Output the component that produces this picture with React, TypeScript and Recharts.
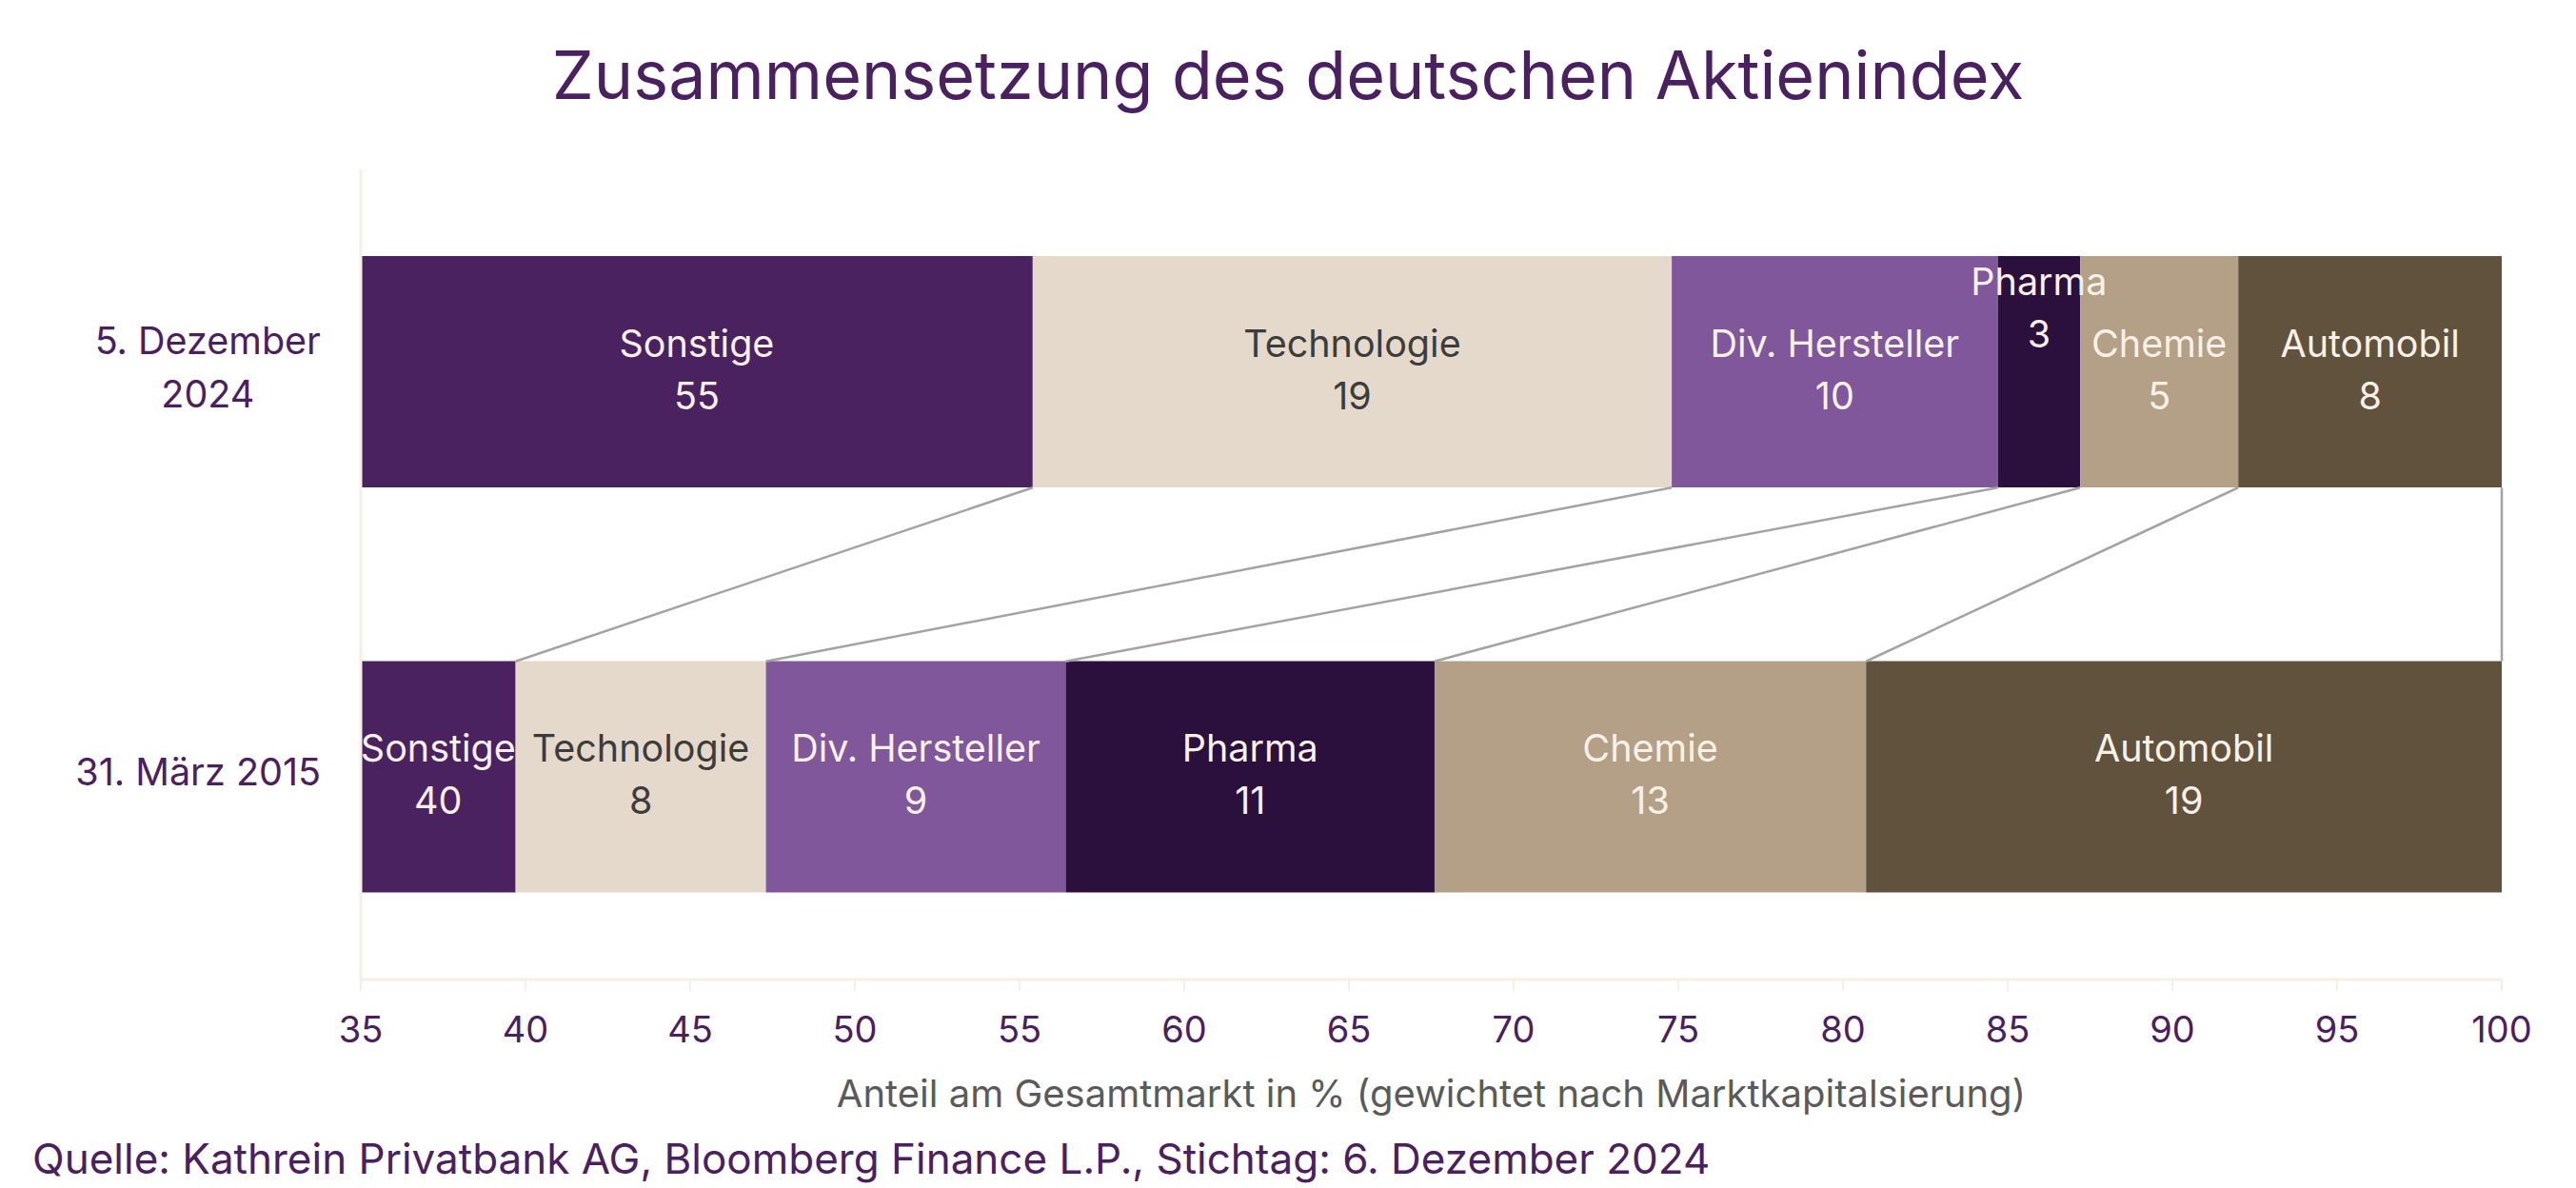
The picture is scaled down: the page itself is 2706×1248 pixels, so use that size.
import { BarChart, Bar, XAxis, YAxis, LabelList, ReferenceLine } from 'recharts';

const CATEGORIES = ['5. Dezember 2024', '31. März 2015'];
const SECTORS = ['Sonstige', 'Technologie', 'Div. Hersteller', 'Pharma', 'Chemie', 'Automobil'];
const DEC_2024 = [55.4, 19.4, 9.9, 2.5, 4.8, 8.0];
const MAR_2015 = [39.7, 7.6, 9.1, 11.2, 13.1, 19.3];
const X_TICKS = [35, 40, 45, 50, 55, 60, 65, 70, 75, 80, 85, 90, 95, 100];

const FILLS = ['#4a2260', '#e4d9ca', '#7f579a', '#2b0f3c', '#b3a086', '#61523e'];
const TEXT_FILLS = ['#f9f1e7', '#3c3c3c', '#f9f1e7', '#f9f1e7', '#f9f1e7', '#f9f1e7'];

const W = 2706;
const H = 1248;
const PLOT_LEFT = 379;
const PLOT_TOP = 178;
const PLOT_RIGHT = 2628;
const PLOT_BOTTOM = 1029;
const BAR_SIZE = 243;
const X_AXIS_H = 60;
const FONT = 'Inter, "Noto Sans", sans-serif';
const PURPLE = '#4a2060';
const AXIS_PALE = '#f7efe6';
const LABEL_SIZE = 39.5;

const ROWS = [DEC_2024, MAR_2015];
const data = CATEGORIES.map((date, i) => {
  const row: Record<string, number | string> = { date };
  SECTORS.forEach((s, j) => {
    row[s] = ROWS[i][j];
  });
  return row;
});

function cumulative(values: number[]) {
  let sum = 0;
  return values.map((v) => {
    sum += v;
    return Math.round(sum * 10) / 10;
  });
}

// connector lines run between the bar edges, on a hidden 0..1 axis
// (in the vertical layout that axis counts from the top down)
const EDGE = BAR_SIZE / 2 / (PLOT_BOTTOM - PLOT_TOP);
const TOP_ROW_BOTTOM = 0.25 + EDGE;
const BOTTOM_ROW_TOP = 0.75 - EDGE;
const topEnds = cumulative(DEC_2024);
const bottomEnds = cumulative(MAR_2015);

let ctx: CanvasRenderingContext2D | null = null;
function textWidth(text: string, font: string) {
  if (!ctx) ctx = document.createElement('canvas').getContext('2d');
  if (!ctx) return text.length * 19;
  ctx.font = font;
  return ctx.measureText(text).width;
}

function wrap(text: string, maxWidth: number, font: string) {
  const words = text.split(' ');
  const lines: string[] = [];
  let cur = '';
  words.forEach((w) => {
    const next = cur ? cur + ' ' + w : w;
    if (cur && textWidth(next, font) > maxWidth) {
      lines.push(cur);
      cur = w;
    } else {
      cur = next;
    }
  });
  if (cur) lines.push(cur);
  return lines;
}

function DateTick(props: any) {
  const { x, y, payload } = props;
  const size = 39.5;
  const font = `${size}px ${FONT}`;
  const lines = wrap(String(payload.value), 290, font);
  const blockW = Math.max(...lines.map((l) => textWidth(l, font)));
  const cx = x - 34 - blockW / 2;
  const first = y + 9 - (lines.length - 1) * 28;
  return (
    <g>
      {lines.map((l, i) => (
        <text
          key={i}
          x={cx}
          y={first + i * 56}
          textAnchor="middle"
          fill={PURPLE}
          fontSize={size}
          fontFamily={FONT}
        >
          {l}
        </text>
      ))}
    </g>
  );
}

function SegmentLabel(props: any) {
  const { x, y, width, height, value, name, color } = props;
  const left = Math.max(x, PLOT_LEFT);
  const cx = (left + x + width) / 2;
  const cy = y + height / 2;
  // narrow segments get their label lifted towards the bar top
  const lift = x + width - left < 100 ? 65 : 0;
  return (
    <g>
      <text x={cx} y={cy - 16 - lift} textAnchor="middle" fill={color} fontSize={LABEL_SIZE} fontFamily={FONT}>
        {name}
      </text>
      <text x={cx} y={cy + 39 - lift} textAnchor="middle" fill={color} fontSize={LABEL_SIZE} fontFamily={FONT}>
        {Math.round(value)}
      </text>
    </g>
  );
}

export default function App() {
  return (
    <div style={{ position: 'absolute', left: 0, top: 0, width: W, height: H, background: '#fff' }}>
      <BarChart
        width={W}
        height={H}
        data={data}
        layout="vertical"
        margin={{ top: PLOT_TOP, right: W - PLOT_RIGHT, bottom: H - PLOT_BOTTOM - X_AXIS_H, left: 0 }}
      >
        <XAxis
          type="number"
          domain={[35, 100]}
          ticks={X_TICKS}
          allowDataOverflow
          height={X_AXIS_H}
          axisLine={{ stroke: AXIS_PALE, strokeWidth: 3 }}
          tickLine={{ stroke: AXIS_PALE, strokeWidth: 2 }}
          tickSize={12}
          tickMargin={27}
          tick={{ fill: PURPLE, fontSize: 38, fontFamily: FONT }}
        />
        <YAxis
          yAxisId="cat"
          type="category"
          dataKey="date"
          width={PLOT_LEFT}
          axisLine={{ stroke: AXIS_PALE, strokeWidth: 3 }}
          tickLine={false}
          tick={<DateTick />}
        />
        <YAxis yAxisId="edge" type="number" domain={[0, 1]} allowDataOverflow hide />
        {SECTORS.map((s, j) => (
          <Bar
            key={s}
            yAxisId="cat"
            dataKey={s}
            stackId="a"
            fill={FILLS[j]}
            barSize={BAR_SIZE}
            isAnimationActive={false}
          >
            <LabelList
              dataKey={s}
              content={(p: any) => <SegmentLabel {...p} name={s} color={TEXT_FILLS[j]} />}
            />
          </Bar>
        ))}
        {topEnds.map((t, j) => (
          <ReferenceLine
            key={'c' + j}
            yAxisId="edge"
            segment={[
              { x: t, y: TOP_ROW_BOTTOM },
              { x: bottomEnds[j], y: BOTTOM_ROW_TOP },
            ]}
            stroke="#a3a3a3"
            strokeWidth={2.5}
          />
        ))}
      </BarChart>
      <svg
        width={W}
        height={H}
        style={{ position: 'absolute', left: 0, top: 0, pointerEvents: 'none' }}
      >
        <text x={W / 2} y={104} textAnchor="middle" fill={PURPLE} fontSize={70} fontFamily={FONT}>
          Zusammensetzung des deutschen Aktienindex
        </text>
        <text
          x={(PLOT_LEFT + PLOT_RIGHT) / 2}
          y={1163}
          textAnchor="middle"
          fill="#5a5a5a"
          fontSize={40}
          fontFamily={FONT}
        >
          Anteil am Gesamtmarkt in % (gewichtet nach Marktkapitalsierung)
        </text>
        <text x={34} y={1233} fill={PURPLE} fontSize={44} fontFamily={FONT}>
          Quelle: Kathrein Privatbank AG, Bloomberg Finance L.P., Stichtag: 6. Dezember 2024
        </text>
      </svg>
    </div>
  );
}
